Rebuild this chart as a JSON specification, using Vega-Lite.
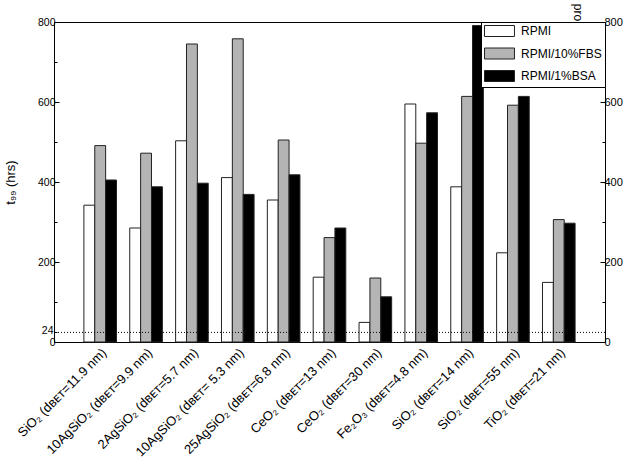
{
  "$schema": "https://vega.github.io/schema/vega-lite/v6.json",
  "width": 551,
  "height": 320,
  "autosize": {"type": "none"},
  "padding": {"left": 54, "top": 22, "right": 27, "bottom": 121},
  "background": "white",
  "config": {
    "view": {"stroke": "black", "strokeWidth": 1},
    "font": "Liberation Sans",
    "axis": {
      "domainColor": "black",
      "tickColor": "black",
      "labelColor": "black",
      "titleColor": "black",
      "grid": false,
      "labelFont": "Liberation Sans",
      "titleFont": "Liberation Sans",
      "titleFontWeight": "normal",
      "labelOverlap": false
    },
    "legend": {"labelFont": "Liberation Sans"}
  },
  "data": {
    "values": [
      {"sample": "SiO₂ (dʙᴇᴛ=11.9 nm)", "series": "RPMI", "value": 342},
      {"sample": "SiO₂ (dʙᴇᴛ=11.9 nm)", "series": "RPMI/10%FBS", "value": 491},
      {"sample": "SiO₂ (dʙᴇᴛ=11.9 nm)", "series": "RPMI/1%BSA", "value": 405},
      {"sample": "10AgSiO₂ (dʙᴇᴛ=9.9 nm)", "series": "RPMI", "value": 285},
      {"sample": "10AgSiO₂ (dʙᴇᴛ=9.9 nm)", "series": "RPMI/10%FBS", "value": 472},
      {"sample": "10AgSiO₂ (dʙᴇᴛ=9.9 nm)", "series": "RPMI/1%BSA", "value": 388},
      {"sample": "2AgSiO₂ (dʙᴇᴛ=5.7 nm)", "series": "RPMI", "value": 503},
      {"sample": "2AgSiO₂ (dʙᴇᴛ=5.7 nm)", "series": "RPMI/10%FBS", "value": 745},
      {"sample": "2AgSiO₂ (dʙᴇᴛ=5.7 nm)", "series": "RPMI/1%BSA", "value": 397},
      {"sample": "10AgSiO₂ (dʙᴇᴛ= 5.3 nm)", "series": "RPMI", "value": 411},
      {"sample": "10AgSiO₂ (dʙᴇᴛ= 5.3 nm)", "series": "RPMI/10%FBS", "value": 758},
      {"sample": "10AgSiO₂ (dʙᴇᴛ= 5.3 nm)", "series": "RPMI/1%BSA", "value": 369},
      {"sample": "25AgSiO₂ (dʙᴇᴛ=6.8 nm)", "series": "RPMI", "value": 355},
      {"sample": "25AgSiO₂ (dʙᴇᴛ=6.8 nm)", "series": "RPMI/10%FBS", "value": 505},
      {"sample": "25AgSiO₂ (dʙᴇᴛ=6.8 nm)", "series": "RPMI/1%BSA", "value": 418},
      {"sample": "CeO₂ (dʙᴇᴛ=13 nm)", "series": "RPMI", "value": 162},
      {"sample": "CeO₂ (dʙᴇᴛ=13 nm)", "series": "RPMI/10%FBS", "value": 261},
      {"sample": "CeO₂ (dʙᴇᴛ=13 nm)", "series": "RPMI/1%BSA", "value": 285},
      {"sample": "CeO₂ (dʙᴇᴛ=30 nm)", "series": "RPMI", "value": 49},
      {"sample": "CeO₂ (dʙᴇᴛ=30 nm)", "series": "RPMI/10%FBS", "value": 160},
      {"sample": "CeO₂ (dʙᴇᴛ=30 nm)", "series": "RPMI/1%BSA", "value": 113},
      {"sample": "Fe₂O₃ (dʙᴇᴛ=4.8 nm)", "series": "RPMI", "value": 595},
      {"sample": "Fe₂O₃ (dʙᴇᴛ=4.8 nm)", "series": "RPMI/10%FBS", "value": 497},
      {"sample": "Fe₂O₃ (dʙᴇᴛ=4.8 nm)", "series": "RPMI/1%BSA", "value": 573},
      {"sample": "SiO₂ (dʙᴇᴛ=14 nm)", "series": "RPMI", "value": 388},
      {"sample": "SiO₂ (dʙᴇᴛ=14 nm)", "series": "RPMI/10%FBS", "value": 614},
      {"sample": "SiO₂ (dʙᴇᴛ=14 nm)", "series": "RPMI/1%BSA", "value": 791},
      {"sample": "SiO₂ (dʙᴇᴛ=55 nm)", "series": "RPMI", "value": 223},
      {"sample": "SiO₂ (dʙᴇᴛ=55 nm)", "series": "RPMI/10%FBS", "value": 592},
      {"sample": "SiO₂ (dʙᴇᴛ=55 nm)", "series": "RPMI/1%BSA", "value": 614},
      {"sample": "TiO₂ (dʙᴇᴛ=21 nm)", "series": "RPMI", "value": 149},
      {"sample": "TiO₂ (dʙᴇᴛ=21 nm)", "series": "RPMI/10%FBS", "value": 306},
      {"sample": "TiO₂ (dʙᴇᴛ=21 nm)", "series": "RPMI/1%BSA", "value": 297}
    ]
  },
  "layer": [
    {
      "mark": {"type": "bar", "stroke": "#222222", "strokeWidth": 1},
      "encoding": {
        "x": {
          "field": "sample",
          "type": "nominal",
          "sort": null,
          "scale": {"paddingInner": 0.289, "paddingOuter": 0.652},
          "axis": {
            "title": null,
            "labelAngle": -45,
            "ticks": false,
            "labelFontSize": 13,
            "labelPadding": 4,
            "labelLimit": 0
          }
        },
        "xOffset": {
          "field": "series",
          "type": "nominal",
          "sort": ["RPMI", "RPMI/10%FBS", "RPMI/1%BSA"],
          "scale": {"paddingInner": 0, "paddingOuter": 0}
        },
        "y": {
          "field": "value",
          "type": "quantitative",
          "scale": {"domain": [0, 800], "nice": false},
          "axis": {
            "orient": "left",
            "title": "t₉₉ (hrs)",
            "values": [0, 24, 100, 200, 300, 400, 500, 600, 700, 800],
            "labelExpr": "(datum.value % 200 == 0 || datum.value == 24) ? datum.label : ''",
            "tickSize": {"condition": {"test": "datum.value % 200 != 0", "value": -3}, "value": -5},
            "labelFontSize": 10.5,
            "labelOffset": {"condition": {"test": "datum.value == 24", "value": -1.5}, "value": 0},
            "labelPadding": 4,
            "titleFontSize": 13,
            "titlePadding": 20
          }
        },
        "fill": {
          "field": "series",
          "type": "nominal",
          "sort": ["RPMI", "RPMI/10%FBS", "RPMI/1%BSA"],
          "scale": {"domain": ["RPMI", "RPMI/10%FBS", "RPMI/1%BSA"], "range": ["#ffffff", "#b4b4b4", "#000000"]},
          "legend": {
            "title": null,
            "orient": "top-right",
            "offset": 0,
            "padding": 3,
            "strokeColor": "black",
            "fillColor": "white",
            "symbolType": "M-1,-1H4.45V1H-1Z",
            "symbolSize": 121,
            "symbolStrokeColor": "#222222",
            "symbolStrokeWidth": 1,
            "symbolOpacity": 1,
            "labelFontSize": 12,
            "labelOffset": 25,
            "labelColor": "black",
            "rowPadding": 6.5
          }
        }
      }
    },
    {
      "data": {"values": [{"threshold": 24}]},
      "mark": {"type": "rule", "strokeDash": [1, 2], "color": "black", "strokeWidth": 1},
      "encoding": {
        "y": {
          "field": "threshold",
          "type": "quantitative",
          "axis": {
            "orient": "right",
            "title": "pro",
            "values": [0, 100, 200, 300, 400, 500, 600, 700, 800],
            "labelExpr": "datum.value % 200 == 0 ? datum.label : ''",
            "tickSize": {"condition": {"test": "datum.value % 200 != 0", "value": -3}, "value": -5},
            "labelFontSize": 11,
            "labelPadding": 4,
            "titleFontSize": 12,
            "titleAngle": 90,
            "titleAlign": "center",
            "titleBaseline": "middle",
            "titleX": -28,
            "titleY": -10
          }
        }
      }
    }
  ],
  "resolve": {"axis": {"y": "independent"}}
}
